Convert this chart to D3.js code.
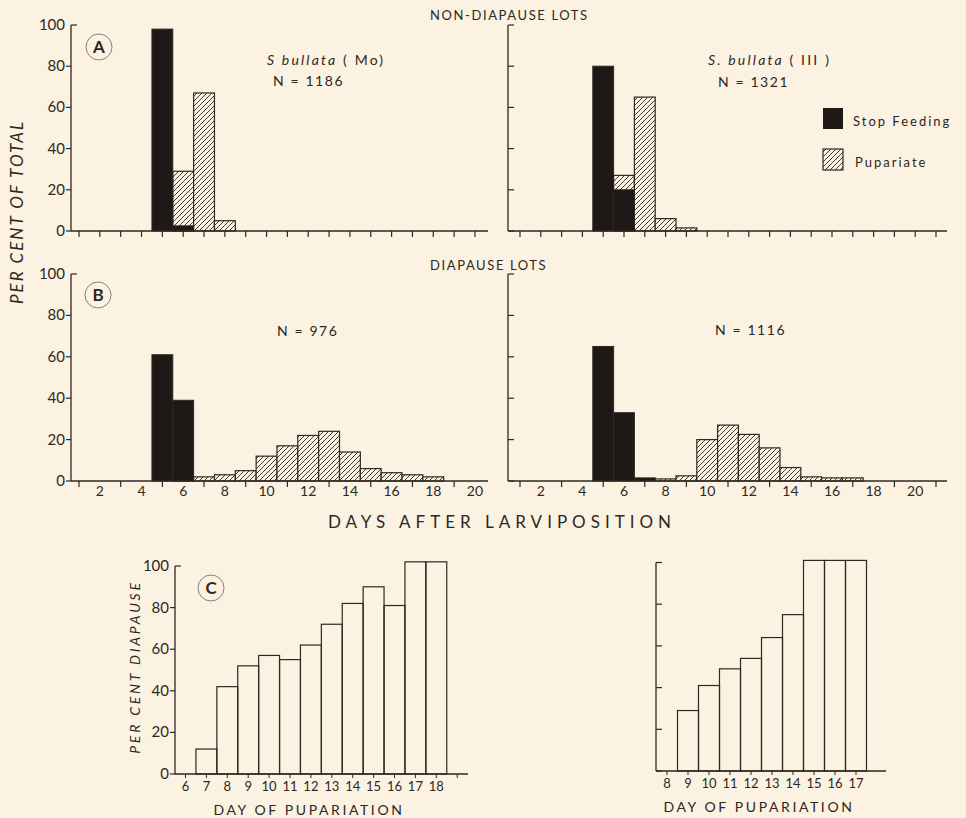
<!DOCTYPE html>
<html>
<head>
<meta charset="utf-8">
<script src="https://cdnjs.cloudflare.com/ajax/libs/d3/7.8.5/d3.min.js"></script>
<style>
  body { margin: 0; background: #fcf2e2; }
  svg { display: block; }
  text { font-family: Lato, "Open Sans", sans-serif; fill: #2e2723; }
</style>
</head>
<body>
<div id="chart"></div>
<script>

// day / percent pairs
var moNonStop = [[5, 98], [6, 2.5]];
var moNonPup = [[6, 29], [7, 67], [8, 5]];
var ilNonStop = [[5, 80], [6, 20]];
var ilNonPup = [[6, 27], [7, 65], [8, 6], [9, 1.5]];

var moDiaStop = [[5, 61], [6, 39]];
var moDiaPup = [[6, 2], [7, 2], [8, 3], [9, 5], [10, 12], [11, 17], [12, 22], [13, 24], [14, 14], [15, 6], [16, 4], [17, 3], [18, 2]];
var ilDiaStop = [[5, 65], [6, 33], [7, 1.5]];
var ilDiaPup = [[8, 1], [9, 2.5], [10, 20], [11, 27], [12, 22.5], [13, 16], [14, 6.5], [15, 2], [16, 1.5], [17, 1.5]];

// panel C: per cent diapause by day of pupariation
var moPupDays = [7, 8, 9, 10, 11, 12, 13, 14, 15, 16, 17, 18];
var moDiapause = [12, 42, 52, 57, 55, 62, 72, 82, 90, 81, 102, 102];
var ilPupDays = [9, 10, 11, 12, 13, 14, 15, 16, 17];
var ilDiapause = [29, 41, 49, 54, 64, 75, 101, 101, 101];

var yTicks = [0, 20, 40, 60, 80, 100];

var ink = "#2e2723";

var svg = d3.select("#chart").append("svg")
    .attr("width", 966)
    .attr("height", 818);

// hatch pattern
var defs = svg.append("defs");
var pat = defs.append("pattern")
    .attr("id", "hatch")
    .attr("patternUnits", "userSpaceOnUse")
    .attr("width", 5)
    .attr("height", 5);
pat.append("rect").attr("width", 5).attr("height", 5).attr("fill", "#fcf2e2");
pat.append("path")
    .attr("d", "M-1,1 l2,-2 M0,5 l5,-5 M4,6 l2,-2")
    .attr("stroke", ink)
    .attr("stroke-width", 0.9);

function histPanel(o) {
    var x = d3.scaleLinear().domain([1, 2]).range([o.day1, o.day1 + o.step]);
    var y = d3.scaleLinear().domain([0, 100]).range([o.y0, o.y100]);
    var g = svg.append("g");

    // bars: pupariate behind, stop feeding in front
    g.selectAll(".pup").data(o.pup).enter().append("rect")
        .attr("x", function(d) { return x(d[0] - 0.5); })
        .attr("width", function(d) { return x(d[0] + 0.5) - x(d[0] - 0.5); })
        .attr("y", function(d) { return y(d[1]); })
        .attr("height", function(d) { return y(0) - y(d[1]); })
        .attr("fill", "url(#hatch)")
        .attr("stroke", ink)
        .attr("stroke-width", 1.2);

    g.selectAll(".stop").data(o.stop).enter().append("rect")
        .attr("x", function(d) { return x(d[0] - 0.5); })
        .attr("width", function(d) { return x(d[0] + 0.5) - x(d[0] - 0.5); })
        .attr("y", function(d) { return y(d[1]); })
        .attr("height", function(d) { return y(0) - y(d[1]); })
        .attr("fill", "#1e1917")
        .attr("stroke", ink)
        .attr("stroke-width", 1);

    yAxis(g, o.ax, y, o.labels);

    // x axis line
    g.append("line")
        .attr("x1", o.ax).attr("x2", o.xEnd)
        .attr("y1", o.y0).attr("y2", o.y0)
        .attr("stroke", ink).attr("stroke-width", 1.3);

    var tickDays = d3.range(1, o.lastTick + 1).filter(function(d) { return !o.labelled || d % 2 === 1; });
    g.selectAll(".xt").data(tickDays).enter().append("line")
        .attr("x1", function(d) { return x(d); }).attr("x2", function(d) { return x(d); })
        .attr("y1", o.y0).attr("y2", o.y0 + 6)
        .attr("stroke", ink).attr("stroke-width", 1.2);

    if (o.labelled) {
        g.selectAll(".xl").data(d3.range(2, 21, 2)).enter().append("text")
            .attr("x", function(d) { return x(d); })
            .attr("y", o.y0 + 15)
            .attr("text-anchor", "middle")
            .style("font-size", "14px")
            .text(function(d) { return d; });
    }
    return g;
}

function yAxis(g, ax, y, labels) {
    g.append("line")
        .attr("x1", ax).attr("x2", ax)
        .attr("y1", y(0)).attr("y2", y(100))
        .attr("stroke", ink).attr("stroke-width", 1.3);
    g.selectAll(".yt").data(yTicks).enter().append("line")
        .attr("x1", ax)
        .attr("x2", function(d) { return (!labels || d === 100) ? ax + 6 : ax - 5; })
        .attr("y1", function(d) { return y(d); })
        .attr("y2", function(d) { return y(d); })
        .attr("stroke", ink).attr("stroke-width", 1.2);
    if (labels) {
        g.selectAll(".yl").data(yTicks).enter().append("text")
            .attr("x", ax - 6)
            .attr("y", function(d) { return y(d) + 5; })
            .attr("text-anchor", "end")
            .style("font-size", "15px")
            .text(function(d) { return d; });
    }
}

function diapausePanel(o) {
    var x = d3.scaleLinear().domain([o.firstDay, o.firstDay + 1]).range([o.dayX, o.dayX + o.step]);
    var y = d3.scaleLinear().domain([0, 100]).range([o.y0, o.y100]);
    var g = svg.append("g");

    g.selectAll("rect").data(o.days).enter().append("rect")
        .attr("x", function(d) { return x(d - 0.5); })
        .attr("width", function(d) { return x(d + 0.5) - x(d - 0.5); })
        .attr("y", function(d, i) { return y(o.values[i]); })
        .attr("height", function(d, i) { return y(0) - y(o.values[i]); })
        .attr("fill", "none")
        .attr("stroke", ink)
        .attr("stroke-width", 1.2);

    yAxis(g, o.ax, y, o.labels);

    g.append("line")
        .attr("x1", o.ax).attr("x2", o.xEnd)
        .attr("y1", o.y0).attr("y2", o.y0)
        .attr("stroke", ink).attr("stroke-width", 1.3);

    g.selectAll(".xt").data(d3.range(o.firstDay, o.lastTick + 1)).enter().append("line")
        .attr("x1", function(d) { return x(d); }).attr("x2", function(d) { return x(d); })
        .attr("y1", o.y0).attr("y2", o.y0 + 4)
        .attr("stroke", ink).attr("stroke-width", 1);

    g.selectAll(".xl").data(d3.range(o.firstDay, o.lastLabel + 1)).enter().append("text")
        .attr("x", function(d) { return x(d); })
        .attr("y", o.y0 + 17)
        .attr("text-anchor", "middle")
        .style("font-size", "13px")
        .text(function(d) { return d; });

    g.append("text")
        .attr("x", o.titleX)
        .attr("y", o.y0 + 41)
        .attr("text-anchor", "middle")
        .style("font-size", "14px")
        .style("letter-spacing", "2.6px")
        .text("DAY OF PUPARIATION");
}

// A: non-diapause lots
histPanel({ stop: moNonStop, pup: moNonPup, ax: 71, xEnd: 488, y0: 231, y100: 25, day1: 79, step: 20.84, lastTick: 20, labels: true, labelled: false });
histPanel({ stop: ilNonStop, pup: ilNonPup, ax: 508, xEnd: 947, y0: 231, y100: 25, day1: 520, step: 20.8, lastTick: 21, labels: false, labelled: false });
// B: diapause lots
histPanel({ stop: moDiaStop, pup: moDiaPup, ax: 71, xEnd: 488, y0: 481, y100: 274, day1: 79, step: 20.84, lastTick: 20, labels: true, labelled: true });
histPanel({ stop: ilDiaStop, pup: ilDiaPup, ax: 508, xEnd: 947, y0: 481, y100: 274, day1: 520, step: 20.8, lastTick: 21, labels: false, labelled: true });
// C: per cent diapause
diapausePanel({ days: moPupDays, values: moDiapause, firstDay: 6, dayX: 185.5, step: 20.9, lastTick: 19, lastLabel: 18, ax: 175, xEnd: 468, y0: 774, y100: 566, labels: true, titleX: 309 });
diapausePanel({ days: ilPupDays, values: ilDiapause, firstDay: 8, dayX: 667, step: 21, lastTick: 17, lastLabel: 17, ax: 656, xEnd: 886, y0: 771, y100: 562.5, labels: false, titleX: 759 });

// section titles
svg.append("text").attr("x", 430).attr("y", 20)
    .style("font-size", "13px").style("letter-spacing", "1.6px")
    .text("NON-DIAPAUSE LOTS");
svg.append("text").attr("x", 430).attr("y", 270)
    .style("font-size", "13px").style("letter-spacing", "1.6px")
    .text("DIAPAUSE LOTS");

// species and N
svg.append("text").attr("x", 267).attr("y", 65)
    .style("font-size", "14px").style("font-style", "italic").style("letter-spacing", "2.2px")
    .text("S  bullata  ")
    .append("tspan").style("font-style", "normal").text("( Mo)");
svg.append("text").attr("x", 273).attr("y", 86)
    .style("font-size", "14px").style("letter-spacing", "1.6px")
    .text("N = 1186");
svg.append("text").attr("x", 708).attr("y", 65)
    .style("font-size", "14px").style("font-style", "italic").style("letter-spacing", "2.2px")
    .text("S.  bullata  ")
    .append("tspan").style("font-style", "normal").text("( III )");
svg.append("text").attr("x", 718).attr("y", 87)
    .style("font-size", "14px").style("letter-spacing", "1.6px")
    .text("N = 1321");
svg.append("text").attr("x", 277).attr("y", 336)
    .style("font-size", "14px").style("letter-spacing", "1.6px")
    .text("N = 976");
svg.append("text").attr("x", 715).attr("y", 335)
    .style("font-size", "14px").style("letter-spacing", "1.6px")
    .text("N = 1116");

// legend
svg.append("rect").attr("x", 823).attr("y", 108).attr("width", 20).attr("height", 21)
    .attr("fill", "#1e1917");
svg.append("text").attr("x", 853).attr("y", 126)
    .style("font-size", "13px").style("letter-spacing", "2px")
    .text("Stop Feeding");
svg.append("rect").attr("x", 823).attr("y", 149).attr("width", 20).attr("height", 21)
    .attr("fill", "url(#hatch)").attr("stroke", ink).attr("stroke-width", 1.2);
svg.append("text").attr("x", 855).attr("y", 167)
    .style("font-size", "13px").style("letter-spacing", "2px")
    .text("Pupariate");

// circled panel letters
[["A", 99, 47], ["B", 98, 295], ["C", 211, 588]].forEach(function(p) {
    svg.append("circle").attr("cx", p[1]).attr("cy", p[2]).attr("r", 13)
        .attr("fill", "none").attr("stroke", "#8a8079").attr("stroke-width", 1);
    svg.append("text").attr("x", p[1]).attr("y", p[2] + 6)
        .attr("text-anchor", "middle")
        .style("font-size", "17px").style("font-weight", "bold")
        .text(p[0]);
});

// axis titles
svg.append("text")
    .attr("transform", "translate(23,212) rotate(-90)")
    .attr("text-anchor", "middle")
    .style("font-size", "17px").style("font-style", "italic").style("letter-spacing", "2px")
    .text("PER CENT OF TOTAL");
svg.append("text")
    .attr("x", 502).attr("y", 528)
    .attr("text-anchor", "middle")
    .style("font-size", "17px").style("letter-spacing", "5px")
    .text("DAYS AFTER LARVIPOSITION");
svg.append("text")
    .attr("transform", "translate(140,667) rotate(-90)")
    .attr("text-anchor", "middle")
    .style("font-size", "14px").style("font-style", "italic").style("letter-spacing", "2.8px")
    .text("PER CENT DIAPAUSE");

</script>
</body>
</html>
